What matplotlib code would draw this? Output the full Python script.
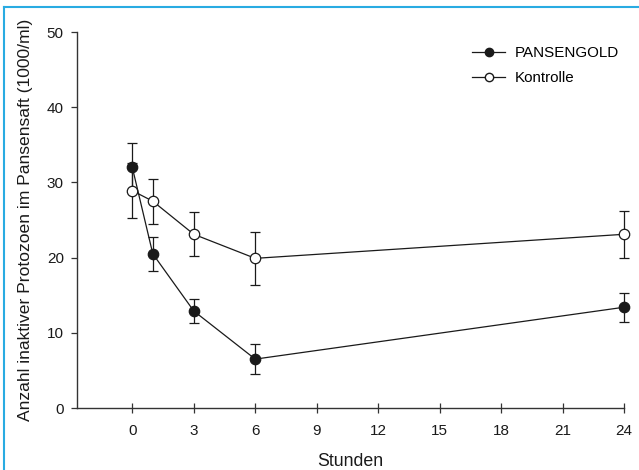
import matplotlib.pyplot as plt
from matplotlib.lines import Line2D

plt.rcParams['font.family'] = ['Liberation Sans', 'DejaVu Sans']

hours = [0, 1, 3, 6, 24]
pansengold = [32.0, 20.5, 12.9, 6.5, 13.4]
pansengold_err = [3.2, 2.3, 1.6, 2.0, 1.9]
kontrolle = [28.9, 27.5, 23.1, 19.9, 23.1]
kontrolle_err = [3.7, 3.0, 2.9, 3.5, 3.1]
x_ticks = [0, 3, 6, 9, 12, 15, 18, 21, 24]
y_ticks = [0, 10, 20, 30, 40, 50]

ink = '#1a1a1a'

fig = plt.figure(figsize=(6.39, 4.70), dpi=100)
ax = fig.add_axes([77 / 639, 62 / 470, (624 - 77) / 639, (408 - 32) / 470])

for vals, errs, face, lab, z in [(pansengold, pansengold_err, ink, 'PANSENGOLD', 3),
                                 (kontrolle, kontrolle_err, 'white', 'Kontrolle', 4)]:
    line, caps, bars = ax.errorbar(hours, vals, yerr=errs, color=ink, lw=0.9,
                                   marker='o', ms=7.5, mfc=face, mec=ink, mew=0.9,
                                   capsize=3.6, capthick=0.9, elinewidth=0.9,
                                   label=lab, zorder=z)
    line.set_clip_on(False)
    for c in caps:
        c.set_clip_on(False)
    for b in bars:
        b.set_clip_on(False)

ax.set_xlim(-2.7, 24)
ax.set_ylim(0, 50)
ax.set_xticks(x_ticks)
ax.set_yticks(y_ticks)
for s in ['top', 'right']:
    ax.spines[s].set_visible(False)
for s in ['left', 'bottom']:
    ax.spines[s].set_color('#333333')
    ax.spines[s].set_linewidth(1.0)
ax.tick_params(axis='x', direction='inout', length=7, width=0.9, color='#333333',
               labelsize=11, labelcolor=ink, pad=8)
ax.tick_params(axis='y', direction='out', length=4.5, width=0.9, color='#333333',
               labelsize=11, labelcolor=ink, pad=5)

ax.set_xlabel('Stunden', fontsize=12.8, color=ink, labelpad=11)
ax.set_ylabel('Anzahl inaktiver Protozoen im Pansensaft (1000/ml)', fontsize=12.6,
              color=ink, labelpad=10)

handles = [
    Line2D([], [], color=ink, lw=0.9, marker='o', ms=6, mfc=ink, mec=ink),
    Line2D([], [], color=ink, lw=0.9, marker='o', ms=6, mfc='white', mec=ink),
]
fig.legend(handles, ['PANSENGOLD', 'Kontrolle'], loc='upper left',
           bbox_to_anchor=(472 / 639, 1 - 46 / 470), frameon=False,
           fontsize=10.9, handlelength=2.2, handletextpad=0.6, labelspacing=0.72,
           borderpad=0, borderaxespad=0)

# light blue frame at left and top of the picture
border = '#29abe2'
fig.add_artist(Line2D([4 / 639, 4 / 639], [0, 1 - 7 / 470], color=border, lw=1.5,
                      transform=fig.transFigure))
fig.add_artist(Line2D([4 / 639, 1], [1 - 7 / 470, 1 - 7 / 470], color=border, lw=1.5,
                      transform=fig.transFigure))

fig.savefig('out.png', dpi=100)
